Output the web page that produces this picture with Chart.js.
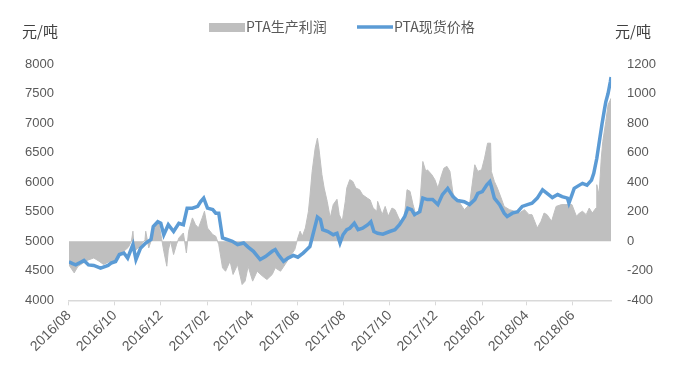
<!DOCTYPE html>
<html>
<head>
<meta charset="utf-8">
<script src="https://cdn.jsdelivr.net/npm/chart.js@4.4.1/dist/chart.umd.min.js"></script>
<style>
  html, body { margin: 0; padding: 0; background: #fff; }
  #wrap { width: 685px; height: 377px; }
</style>
</head>
<body>
<div id="wrap"><canvas id="chart" width="685" height="377"></canvas></div>
<script>
// days counted from 2016/08/01
var seriesNames = ['PTA生产利润', 'PTA现货价格'];
var unitLabel = '元/吨';
var tickLabels = ['2016/08', '2016/10', '2016/12', '2017/02', '2017/04', '2017/06',
  '2017/08', '2017/10', '2017/12', '2018/02', '2018/04', '2018/06'];
var lastDay = 720;

var priceDays = [0, 5, 9, 15, 20, 26, 33, 42, 52, 56, 62, 67, 73, 78, 85, 89, 95, 102, 109, 112,
  118, 122, 126, 132, 139, 146, 152, 157, 164, 171, 175, 179, 184, 191, 195, 199, 204, 210, 217, 224,
  232, 238, 245, 254, 261, 270, 274, 278, 285, 291, 298, 304, 311, 316, 320, 324, 330, 334, 337, 344,
  351, 356, 360, 364, 369, 373, 379, 384, 390, 397, 401, 405, 410, 417, 426, 433, 439, 446, 450, 455,
  459, 466, 470, 476, 483, 490, 496, 503, 510, 516, 525, 532, 539, 543, 549, 555, 559, 561, 565, 572,
  578, 582, 589, 596, 602, 609, 615, 622, 629, 635, 642, 649, 655, 662, 664, 668, 671, 678, 682, 688,
  694, 697, 701, 704, 708, 711, 713, 716, 719, 720];
var priceValues = [4650, 4620, 4600, 4640, 4675, 4600, 4590, 4545, 4590, 4630, 4658, 4775, 4800, 4715, 4945, 4690, 4880, 4970, 5030, 5250,
  5330, 5305, 5110, 5280, 5165, 5305, 5280, 5560, 5560, 5590, 5670, 5730, 5560, 5535, 5475, 5475, 5055, 5030, 5000, 4945,
  4970, 4900, 4830, 4690, 4740, 4830, 4860, 4775, 4660, 4715, 4760, 4730, 4800, 4860, 4910, 5110, 5410, 5370, 5195, 5165,
  5110, 5135, 4970, 5110, 5195, 5220, 5305, 5195, 5220, 5280, 5330, 5165, 5135, 5120, 5165, 5195, 5280, 5420, 5560, 5535,
  5450, 5500, 5730, 5705, 5705, 5620, 5790, 5895, 5755, 5690, 5670, 5620, 5705, 5810, 5840, 5955, 6008, 5925, 5730, 5620,
  5475, 5420, 5475, 5500, 5590, 5620, 5645, 5730, 5870, 5810, 5740, 5790, 5755, 5730, 5645, 5785, 5895, 5950, 5980, 5950,
  6035, 6150, 6400, 6655, 6990, 7215, 7360, 7500, 7700, 7780];

var profitDays = [0, 7, 12, 16, 24, 33, 40, 46, 53, 60, 66, 73, 79, 83, 85, 87, 95, 101, 102, 106,
  111, 115, 119, 123, 126, 130, 132, 135, 139, 143, 146, 152, 156, 159, 164, 168, 172, 177, 180, 184,
  191, 195, 199, 204, 208, 214, 218, 224, 230, 234, 238, 244, 250, 257, 263, 270, 274, 281, 287, 294,
  300, 304, 307, 310, 314, 318, 320, 323, 327, 330, 332, 336, 339, 343, 347, 351, 356, 359, 363, 367,
  369, 373, 377, 381, 386, 390, 396, 400, 404, 409, 410, 416, 420, 424, 429, 433, 437, 442, 446, 449,
  453, 457, 462, 466, 470, 474, 476, 482, 486, 490, 495, 498, 502, 506, 510, 515, 519, 525, 532, 539,
  543, 548, 552, 556, 560, 561, 565, 569, 574, 578, 585, 592, 598, 605, 611, 615, 622, 627, 631, 635,
  641, 647, 654, 660, 668, 674, 678, 682, 687, 691, 695, 700, 701, 704, 707, 709, 713, 716, 720];
var profitValues = [-160, -214, -170, -157, -130, -113, -135, -157, -140, -135, -100, -68, -40, 0, 68, -68, -30, 10, 68, -45,
  30, 113, 135, 20, -68, -169, -60, 0, -90, -20, 22, 56, -79, 68, 158, 113, 90, 158, 203, 90,
  45, 34, -23, -180, -203, -135, -225, -158, -293, -270, -170, -270, -203, -236, -259, -225, -180, -203, -158, -101,
  -56, 22, 68, 34, 90, 200, 300, 473, 630, 698, 630, 450, 360, 270, 158, 248, 284, 180, 135, 270,
  360, 417, 405, 360, 349, 315, 293, 280, 225, 203, 270, 180, 236, 169, 225, 214, 169, 113, 191, 349,
  338, 248, 158, 248, 540, 473, 484, 450, 417, 360, 450, 495, 507, 473, 326, 270, 260, 214, 248, 518,
  473, 484, 563, 664, 664, 473, 405, 360, 293, 236, 214, 203, 191, 214, 180, 180, 90, 135, 191, 180,
  135, 236, 248, 248, 248, 169, 191, 203, 180, 225, 191, 225, 383, 315, 563, 676, 811, 924, 968];

var lineColor = '#5B9BD5';
var areaColor = '#BFBFBF';
var textColor = '#595959';
var axisColor = '#D9D9D9';
var fontFamily = '"Liberation Sans", "Noto Sans CJK SC", sans-serif';

function toPoints(days, values) {
  var pts = [];
  for (var i = 0; i < days.length; i++) {
    pts.push({ x: days[i], y: values[i] });
  }
  return pts;
}

function labelToDay(label) {
  var parts = label.split('/');
  var t = Date.UTC(parseInt(parts[0]), parseInt(parts[1]) - 1, 1);
  return Math.round((t - Date.UTC(2016, 7, 1)) / 86400000);
}

function plainNumber(value) {
  return String(value);
}

var tickDays = tickLabels.map(labelToDay);

var headerPlugin = {
  id: 'header',
  afterDraw: function(chart) {
    var ctx = chart.ctx;
    ctx.save();
    ctx.textBaseline = 'middle';
    ctx.font = '15px "Noto Sans CJK SC", sans-serif';
    ctx.fillStyle = '#404040';
    ctx.fillText(unitLabel, 22, 31);
    ctx.fillText(unitLabel, 615, 31);

    ctx.font = '14px "Noto Sans CJK SC", sans-serif';
    ctx.fillStyle = areaColor;
    ctx.fillRect(209, 23, 36, 9);
    ctx.fillStyle = textColor;
    ctx.fillText(seriesNames[0], 246, 27);

    ctx.strokeStyle = lineColor;
    ctx.lineWidth = 3.5;
    ctx.beginPath();
    ctx.moveTo(357, 27);
    ctx.lineTo(393, 27);
    ctx.stroke();
    ctx.fillText(seriesNames[1], 394, 27);
    ctx.restore();
  }
};

var ctx = document.getElementById('chart').getContext('2d');
var myChart = new Chart(ctx, {
  type: 'line',
  data: {
    datasets: [
      {
        label: seriesNames[1],
        data: toPoints(priceDays, priceValues),
        yAxisID: 'y',
        borderColor: lineColor,
        borderWidth: 3.5,
        pointRadius: 0,
        tension: 0,
        fill: false,
        order: 0
      },
      {
        label: seriesNames[0],
        data: toPoints(profitDays, profitValues),
        yAxisID: 'y1',
        borderColor: areaColor,
        backgroundColor: areaColor,
        borderWidth: 1,
        pointRadius: 0,
        tension: 0,
        fill: 'origin',
        order: 1
      }
    ]
  },
  options: {
    responsive: false,
    animation: false,
    layout: { padding: { top: 64, left: 10, right: 13, bottom: 20 } },
    plugins: {
      legend: { display: false },
      tooltip: { enabled: false }
    },
    scales: {
      x: {
        type: 'linear',
        min: 0,
        max: lastDay,
        afterBuildTicks: function(axis) {
          axis.ticks = tickDays.map(function(d) { return { value: d }; });
        },
        afterFit: function(axis) {
          axis.paddingLeft = 0;
          axis.paddingRight = 0;
        },
        ticks: {
          autoSkip: false,
          minRotation: 45,
          maxRotation: 45,
          color: textColor,
          font: { family: fontFamily, size: 14 },
          padding: 2,
          callback: function(value) {
            var i = tickDays.indexOf(value);
            return i >= 0 ? tickLabels[i] : '';
          }
        },
        grid: {
          display: true,
          drawOnChartArea: false,
          drawTicks: true,
          tickLength: 5,
          color: axisColor
        },
        border: { display: true, color: axisColor, width: 1.5 }
      },
      y: {
        position: 'left',
        min: 4000,
        max: 8000,
        ticks: {
          stepSize: 500,
          color: textColor,
          padding: 15,
          font: { family: fontFamily, size: 13 },
          callback: plainNumber
        },
        grid: { display: false, drawTicks: false },
        border: { display: false }
      },
      y1: {
        position: 'right',
        min: -400,
        max: 1200,
        ticks: {
          stepSize: 200,
          color: textColor,
          padding: 16,
          font: { family: fontFamily, size: 13 },
          callback: plainNumber
        },
        grid: { display: false, drawTicks: false },
        border: { display: false }
      }
    }
  },
  plugins: [headerPlugin]
});
</script>
</body>
</html>
